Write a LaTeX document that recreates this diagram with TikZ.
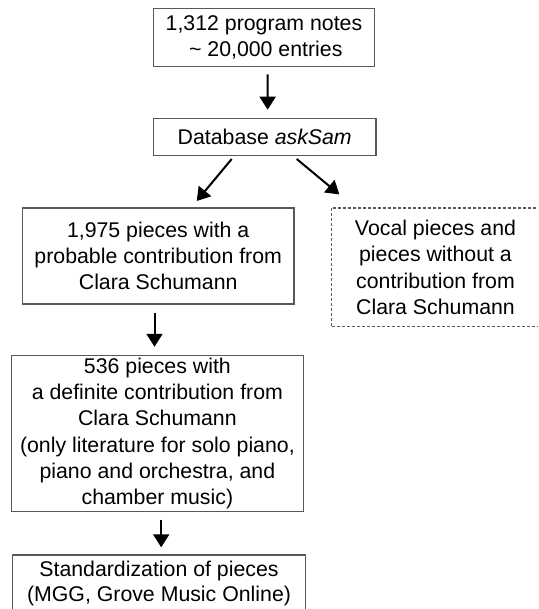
\documentclass[tikz,border=0pt]{standalone}
\usepackage{fontspec}
\setmainfont{Liberation Sans}
\usetikzlibrary{arrows.meta}
\tikzset{
  box/.style={draw=black!65, line width=1.4pt, inner sep=0pt, align=center,
    font=\fontsize{21.3}{26.3}\selectfont, text=black},
  dbox/.style={box, dash pattern=on 3pt off 2pt, line width=1.2pt},
  arr/.style={draw=black, line width=2pt, -{Triangle[width=16pt,length=13pt]}},
}
\begin{document}
\begin{tikzpicture}[x=1pt,y=-1pt]
\useasboundingbox (0,0) rectangle (538,609);
\clip (0,0) rectangle (538,609);
\fill[white] (0,0) rectangle (538,609);

\node[box, minimum width=221.5pt, minimum height=58.3pt] (b1) at (264,37.4)
  {1,312 program notes\\[-1pt]\,\textasciitilde\ 20,000 entries};
\node[box, minimum width=222.7pt, minimum height=37pt] (b2) at (264.7,136.8)
  {Database \textit{askSam}};
\node[box, minimum width=271.7pt, minimum height=96pt] (b3) at (158.2,256)
  {1,975 pieces with a\\probable contribution from\\Clara Schumann};
\node[dbox, minimum width=208pt, minimum height=118.8pt] (b4) at (435.5,267.4)
  {Vocal pieces and\\pieces without a\\contribution from\\Clara Schumann};
\node[box, minimum width=292.2pt, minimum height=155.7pt] (b5) at (157.4,433.5)
  {536 pieces with\\a definite contribution from\\Clara Schumann\\(only literature for solo piano,\\piano and orchestra, and\\chamber music)};
\node[box, minimum width=292.5pt, minimum height=57pt] (b6) at (159,583.4)
  {Standardization of pieces\\[-1.5pt](MGG, Grove Music Online)};

\draw[arr] ([shift={(3.5,7.2)}]b1.south) -- ([shift={(3,-7.9)}]b2.north);
\draw[arr] ([shift={(-33,3)}]b2.south) -- ([shift={(38.5,-6.3)}]b3.north);
\draw[arr] ([shift={(32,3)}]b2.south) -- ([shift={(8.4,-13)}]b4.north west);
\draw[arr] ([shift={(-3.7,8)}]b3.south) -- ([shift={(-2.9,-8.2)}]b5.north);
\draw[arr] ([shift={(3.8,7.6)}]b5.south) -- ([shift={(2.2,-6.9)}]b6.north);
\end{tikzpicture}
\end{document}
